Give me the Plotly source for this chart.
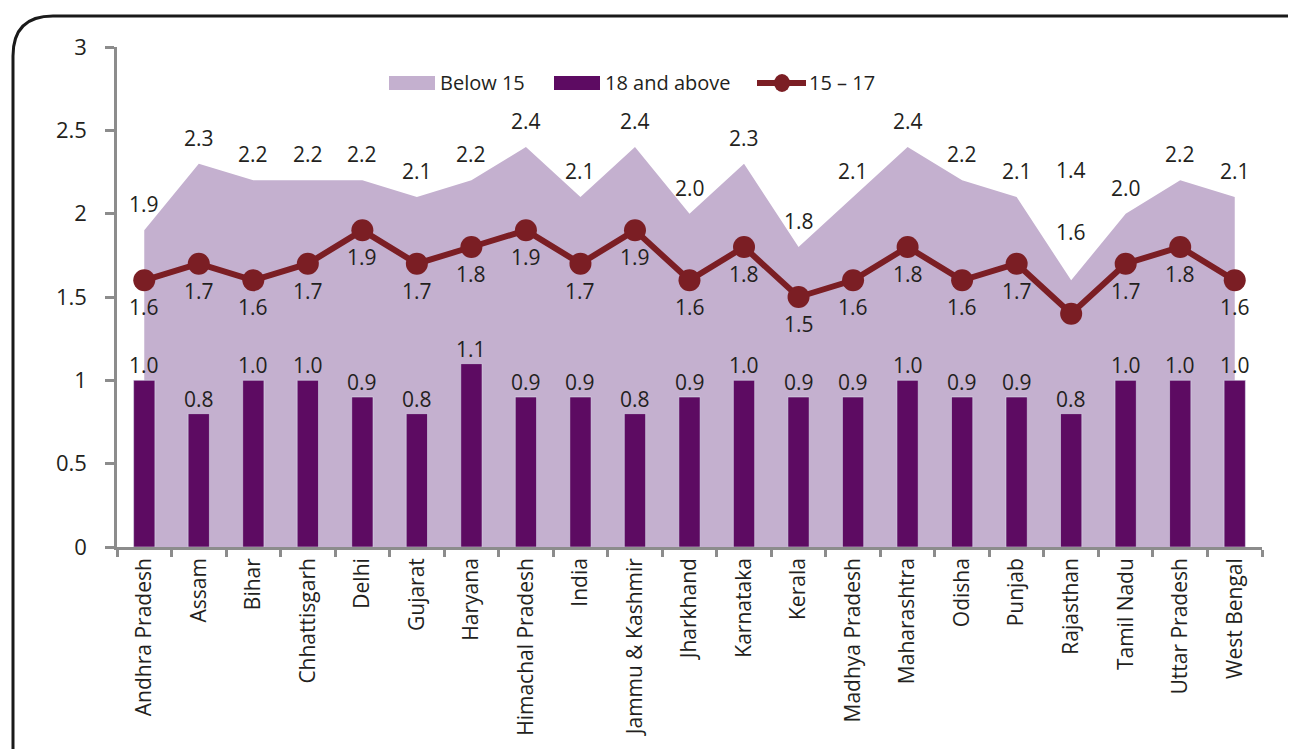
import plotly.graph_objects as go

states = ["Andhra Pradesh", "Assam", "Bihar", "Chhattisgarh", "Delhi", "Gujarat",
          "Haryana", "Himachal Pradesh", "India", "Jammu & Kashmir", "Jharkhand",
          "Karnataka", "Kerala", "Madhya Pradesh", "Maharashtra", "Odisha", "Punjab",
          "Rajasthan", "Tamil Nadu", "Uttar Pradesh", "West Bengal"]
below15 = [1.9, 2.3, 2.2, 2.2, 2.2, 2.1, 2.2, 2.4, 2.1, 2.4, 2.0,
           2.3, 1.8, 2.1, 2.4, 2.2, 2.1, 1.6, 2.0, 2.2, 2.1]
age15_17 = [1.6, 1.7, 1.6, 1.7, 1.9, 1.7, 1.8, 1.9, 1.7, 1.9, 1.6,
            1.8, 1.5, 1.6, 1.8, 1.6, 1.7, 1.4, 1.7, 1.8, 1.6]
above18 = [1.0, 0.8, 1.0, 1.0, 0.9, 0.8, 1.1, 0.9, 0.9, 0.8, 0.9,
           1.0, 0.9, 0.9, 1.0, 0.9, 0.9, 0.8, 1.0, 1.0, 1.0]
legend_names = ["Below 15", "18 and above", "15 \u2013 17"]

AREA = "#C4B0CF"
BAR = "#5D0B62"
LINE = "#7B1E24"
FONT = "Open Sans"
TXT = "#231F20"
GREY = "#8C8C8C"

# plot area in page pixels (page has an 8px body margin)
PL, PT, PW, PH = 117, 47, 1145, 500


def px(x):
    return (x - PL) / PW


def py(y):
    return (PT + PH - y) / PH


fig = go.Figure()

# area on base axes so the bars/line (overlay axes) draw on top of it
fig.add_trace(go.Scatter(x=states, y=below15, name=legend_names[0], mode="none",
                         fill="tozeroy", fillcolor=AREA, showlegend=False))
fig.add_trace(go.Bar(x=states, y=above18, name=legend_names[1], marker_color=BAR,
                     width=0.39, xaxis="x2", yaxis="y2", showlegend=False))
fig.add_trace(go.Scatter(x=states, y=age15_17, name=legend_names[2], mode="lines+markers",
                         line=dict(color=LINE, width=6), marker=dict(size=22, color=LINE),
                         xaxis="x2", yaxis="y2", showlegend=False))

# data labels
lab_font = dict(family=FONT, size=21, color=TXT)
for i, s in enumerate(states):
    a_shift = 26
    l_shift = -27
    if s == "Rajasthan":
        a_shift = 48
        l_shift = 144
    fig.add_annotation(x=s, y=below15[i], text="%.1f" % below15[i], showarrow=False,
                       yshift=a_shift, xref="x", yref="y", font=lab_font)
    fig.add_annotation(x=s, y=age15_17[i], text="%.1f" % age15_17[i], showarrow=False,
                       yshift=l_shift, xref="x2", yref="y2", font=lab_font)
    fig.add_annotation(x=s, y=above18[i], text="%.1f" % above18[i], showarrow=False,
                       yshift=15, xref="x2", yref="y2", font=lab_font)

# legend drawn by hand (wide swatches like the original)
leg_y = 83
leg_font = dict(family=FONT, size=20, color=TXT)
fig.add_shape(type="rect", xref="paper", yref="paper", x0=px(389), x1=px(435),
              y0=py(90), y1=py(76), fillcolor=AREA, line_width=0)
fig.add_shape(type="rect", xref="paper", yref="paper", x0=px(554), x1=px(600),
              y0=py(90), y1=py(76), fillcolor=BAR, line_width=0)
fig.add_shape(type="line", xref="paper", yref="paper", x0=px(757), x1=px(806),
              y0=py(leg_y), y1=py(leg_y), line=dict(color=LINE, width=6))
fig.add_shape(type="circle", xref="paper", yref="paper", x0=px(774), x1=px(790),
              y0=py(leg_y + 9), y1=py(leg_y - 9), fillcolor=LINE, line_width=0)
for name, xs in zip(legend_names, [438, 603, 807]):
    fig.add_annotation(x=px(xs), y=py(leg_y), xref="paper", yref="paper", text=name,
                       showarrow=False, xanchor="left", yanchor="middle", font=leg_font)

axis_x = dict(type="category", categoryarray=states, range=[-0.5, 20.5],
              showline=True, linecolor=GREY, linewidth=2.5,
              ticks="outside", tickson="boundaries", ticklen=7, tickwidth=2.5,
              tickcolor=GREY, tickangle=-90, showgrid=False,
              tickfont=dict(family=FONT, size=21, color=TXT))
axis_y = dict(range=[0, 3], dtick=0.5, showline=True, linecolor=GREY, linewidth=2.5,
              ticks="outside", ticklen=9, tickwidth=2.5, tickcolor=GREY,
              ticklabelstandoff=14, showgrid=False, zeroline=False,
              tickfont=dict(family=FONT, size=22, color=TXT))

fig.update_layout(
    width=1296, height=749,
    margin=dict(l=PL - 8, r=1296 - (PL - 8) - PW, t=PT - 8, b=749 - (PT - 8) - PH),
    plot_bgcolor="white", paper_bgcolor="white",
    xaxis=axis_x, yaxis=axis_y,
    xaxis2=dict(type="category", categoryarray=states, range=[-0.5, 20.5],
                overlaying="x", visible=False),
    yaxis2=dict(range=[0, 3], overlaying="y", visible=False),
    showlegend=False,
)

# rounded frame around the chart
x0 = px(13)
yt = py(16)
rx = 40 / PW
ry = 40 / PH
path = "M %f,%f L %f,%f Q %f,%f %f,%f L %f,%f" % (
    x0, -0.45, x0, yt - ry, x0, yt, x0 + rx, yt, 1.06, yt)
fig.add_shape(type="path", path=path, xref="paper", yref="paper",
              line=dict(color="#1A1A1A", width=3), layer="above")

fig.write_html("out.html")
